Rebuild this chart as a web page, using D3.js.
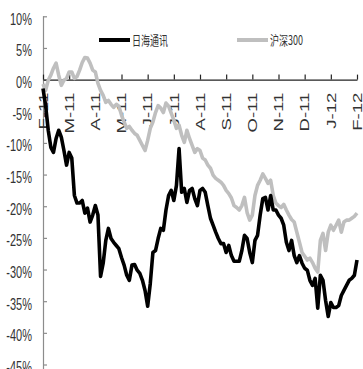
<!DOCTYPE html>
<html>
<head>
<meta charset="utf-8">
<script src="https://cdn.jsdelivr.net/npm/d3@7"></script>
<style>
  html, body { margin: 0; padding: 0; background: #fff; }
  svg { display: block; }
</style>
</head>
<body>
<svg id="chart" width="363" height="369"></svg>
<script>
// ---- data (cumulative return, %) sampled ~every 2 trading days, Feb-2011 .. Feb-2012 ----
const monthLabels = ["F-11","M-11","A-11","M-11","J-11","J-11","A-11","S-11","O-11","N-11","D-11","J-12","F-12"];
const yTicks = [10, 5, 0, -5, -10, -15, -20, -25, -30, -35, -40, -45];
const seriesNames = ["日海通讯", "沪深300"];

const rihai = [
  -1.4, -4.1, -8.0, -10.7, -11.5, -9.3, -8.0, -9.1, -11.2, -13.5,
  -11.5, -12.4, -18.3, -19.5, -19.5, -19.1, -21.1, -20.3, -22.5, -21.4,
  -19.9, -21.4, -31.1, -29.0, -25.4, -23.5, -25.1, -25.7, -26.2, -26.7,
  -28.1, -29.3, -30.9, -31.7, -29.3, -29.2, -30.1, -30.6, -31.7, -33.3,
  -35.8, -32.2, -27.3, -27.0, -25.1, -23.5, -23.8, -20.6, -18.3, -17.5,
  -19.1, -16.7, -10.9, -17.8, -17.2, -19.4, -17.5, -17.2, -18.8, -19.9,
  -17.5, -17.2, -17.8, -19.9, -21.9, -23.0, -24.1, -25.1, -25.9, -25.9,
  -27.3, -26.2, -27.8, -28.7, -28.7, -28.7, -27.0, -24.6, -25.1, -27.3,
  -28.9, -25.4, -24.6, -21.4, -18.8, -18.6, -20.6, -18.3, -20.6, -20.6,
  -21.4, -21.9, -23.0, -25.7, -27.0, -25.4, -27.8, -28.9, -27.8, -29.0,
  -29.8, -30.1, -31.7, -32.5, -31.4, -36.1, -30.9, -31.7, -34.9, -37.4,
  -35.2, -36.0, -36.0, -35.7, -34.1, -33.3, -32.5, -31.7, -31.4, -30.9,
  -28.5
];

const hs300 = [
  -0.7, -1.7, -0.1, 0.7, 1.8, 2.6, 0.7, -0.9, -0.1, 0.2,
  1.2, 1.2, 0.2, 0.5, 1.5, 2.7, 3.5, 3.4, 2.6, 1.5,
  1.2, -0.6, -1.7, -2.5, -3.6, -3.3, -3.9, -4.4, -3.9, -4.2,
  -5.6, -6.7, -7.7, -7.4, -8.0, -8.5, -8.8, -9.6, -10.4, -11.2,
  -9.6, -7.7, -6.7, -5.2, -4.1, -4.5, -5.2, -3.7, -4.2, -5.3,
  -6.4, -7.7, -7.2, -8.8, -9.9, -8.0, -9.3, -10.4, -11.5, -10.9,
  -11.2, -12.4, -12.7, -13.5, -14.0, -15.1, -15.6, -15.9, -16.2, -16.7,
  -17.5, -18.0, -18.7, -19.9, -20.2, -20.6, -19.9, -18.6, -21.0, -22.2,
  -21.4, -18.3, -16.7, -15.9, -14.9, -15.6, -16.4, -15.9, -18.3, -19.5,
  -19.9, -20.2, -19.7, -20.6, -21.4, -22.1, -22.5, -24.1, -25.7, -27.3,
  -27.9, -28.5, -28.2, -28.9, -29.8, -30.4, -25.4, -24.3, -27.0, -24.1,
  -23.0, -23.8, -23.0, -22.2, -24.1, -22.5, -22.2, -22.2, -21.9, -21.6,
  -21.1
];

// ---- layout ----
const svg = d3.select("#chart");
const mLeft = 43, mRight = 357, mTop = 16.3, mBottom = 364.5;
const n = rihai.length;

const x = d3.scaleLinear().domain([0, n - 1]).range([mLeft, mRight]);
const y = d3.scaleLinear().domain([-45, 10]).range([mBottom, mTop]);
const step = (n - 1) / (monthLabels.length - 1);
const monthIdx = monthLabels.map((_, i) => i * step);

const textColor = "#333";
const fontLatin = "'Liberation Sans', Arial, sans-serif";
const fontCJK = "'Noto Sans CJK SC', 'Liberation Sans', sans-serif";

// Y axis (left, gray, ticks pointing inward)
const yAxis = d3.axisLeft(y).tickValues(yTicks).tickFormat(d => d + "%")
  .tickSizeInner(-4).tickSizeOuter(0).tickPadding(11);
const gy = svg.append("g").attr("transform", `translate(${mLeft},0)`).call(yAxis);
gy.select(".domain").attr("stroke", "#8c8c8c").attr("stroke-width", 1.2)
  .attr("d", `M0.5,${mTop}V369`);
gy.selectAll(".tick line").attr("stroke", "#8c8c8c").attr("stroke-width", 1.2);
gy.selectAll(".tick text")
  .attr("fill", textColor)
  .style("font-family", fontLatin)
  .style("font-size", "11px")
  .attr("dy", "0.48em")
  .attr("transform", "scale(1,1.5)");

// X axis at 0%
const xAxis = d3.axisBottom(x).tickValues(monthIdx)
  .tickFormat((d, i) => monthLabels[i])
  .tickSizeInner(-5).tickSizeOuter(0).tickPadding(0);
const gx = svg.append("g").attr("transform", `translate(0,${y(0)})`).call(xAxis);
gx.select(".domain").attr("stroke", "#222").attr("stroke-width", 1.2);
gx.selectAll(".tick line").attr("stroke", "#222").attr("stroke-width", 1.2);
gx.selectAll(".tick text")
  .attr("fill", textColor)
  .style("font-family", fontLatin)
  .style("font-size", "12px")
  .attr("x", 0).attr("y", 0)
  .attr("dy", "0.35em")
  .attr("text-anchor", "end")
  .attr("transform", "translate(0,13) rotate(-90) scale(1.55,1)");

// lines
const line = d3.line().x((d, i) => x(i)).y(d => y(d)).curve(d3.curveLinear);
svg.append("path").datum(hs300)
  .attr("d", line).attr("fill", "none")
  .attr("stroke", "#bfbfbf").attr("stroke-width", 3.6)
  .attr("stroke-linejoin", "round");
svg.append("path").datum(rihai)
  .attr("d", line).attr("fill", "none")
  .attr("stroke", "#000").attr("stroke-width", 3.6)
  .attr("stroke-linejoin", "round");

// legend
const legend = [
  { name: seriesNames[0], color: "#000", x0: 99 },
  { name: seriesNames[1], color: "#bfbfbf", x0: 237 }
];
const lg = svg.append("g");
legend.forEach(l => {
  lg.append("line").attr("x1", l.x0).attr("x2", l.x0 + 31)
    .attr("y1", 40).attr("y2", 40)
    .attr("stroke", l.color).attr("stroke-width", 4);
  lg.append("text")
    .attr("transform", `translate(${l.x0 + 33},44.5) scale(1,1.4)`)
    .attr("fill", textColor)
    .style("font-family", fontCJK)
    .style("font-size", "9px")
    .text(l.name);
});
</script>
</body>
</html>
